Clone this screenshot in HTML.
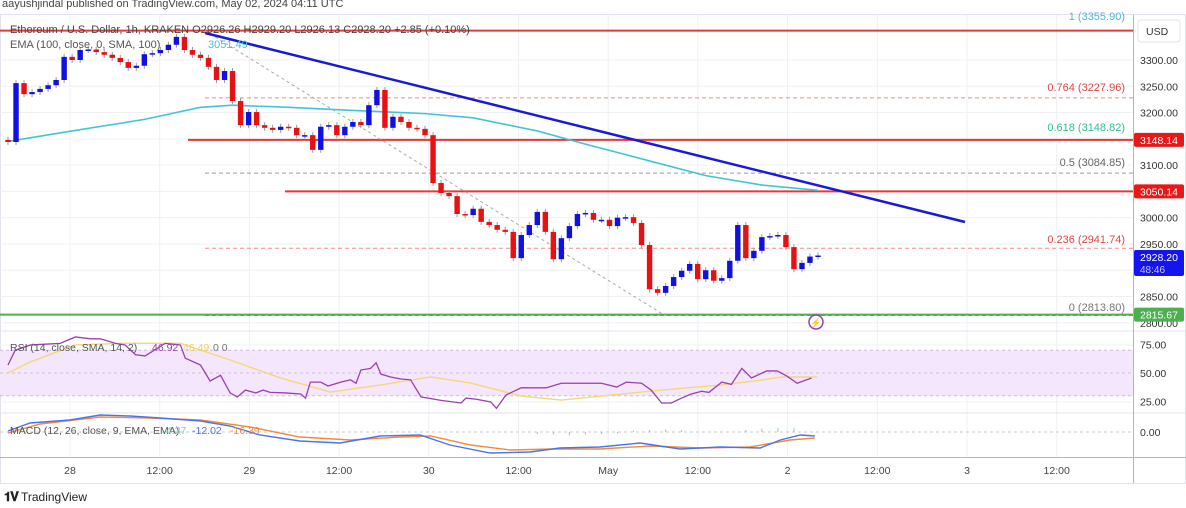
<!DOCTYPE html>
<html><head><meta charset="utf-8">
<style>
html,body{margin:0;padding:0;background:#fff;}
body{width:1186px;height:508px;overflow:hidden;font-family:"Liberation Sans",sans-serif;position:relative;}
.t{position:absolute;white-space:nowrap;}
</style></head>
<body>
<div class="t" style="left:2px;top:-2px;font-size:11px;color:#444;">aayushjindal published on TradingView.com, May 02, 2024 04:11 UTC</div>
<svg id="chart" width="1186" height="508" style="position:absolute;left:0;top:0" font-family="Liberation Sans, sans-serif"></svg>
<div class="t" style="left:4px;top:489px;font-size:12px;color:#222;"><b style="font-size:13px;letter-spacing:-1px">𝟏𝐕</b> TradingView</div>
<script>
// ---- data ----
const opens0 = 3148;
const closes = [3144,3256,3235,3239,3245,3252,3262,3306,3300,3319,3320,3315,3310,3304,3296,3285,3289,3311,3313,3319,3329,3344,3319,3310,3304,3287,3262,3279,3222,3176,3201,3176,3171,3167,3173,3171,3157,3157,3129,3173,3176,3157,3173,3182,3176,3214,3243,3171,3192,3182,3171,3169,3157,3066,3047,3041,3007,3005,3017,2992,2986,2977,2973,2923,2967,2986,3011,2973,2921,2961,2984,3007,3009,2996,2996,2984,3000,3001,2990,2948,2864,2857,2870,2887,2899,2912,2883,2900,2880,2885,2918,2986,2923,2937,2963,2965,2967,2944,2902,2914,2926,2928];
const emaIdx = [0,8,17,24,28,35,43,49,52,58,66,72,80,87,94,101];
const emaVals = [3145,3165,3187,3210,3214,3210,3204,3200,3198,3190,3165,3140,3108,3080,3062,3052];
const priceTicks = [3300,3250,3200,3150,3100,3000,2950,2850,2800];
const timeLabels = ["28","12:00","29","12:00","30","12:00","May","12:00","2","12:00","3","12:00"];
const timeHours = [0,12,24,36,48,60,72,84,96,108,120,132];
const rsiIdx = [0,0.9,2.8,6.5,8.4,10.3,11.5,13.4,14.6,15.9,17.1,19.6,21.5,22.1,24,25.2,26.5,27.7,28.6,29.6,30.9,31.8,32.7,34.6,36.5,37.1,37.7,39,39.9,41.5,42.7,43.4,44,45.2,45.9,46.5,47.7,49,50.2,51.5,54,56.5,57.1,58.4,60.2,60.9,62.1,64,67.1,69,72.7,74,75.9,77.1,79,80.2,81.5,82.7,84,85.2,86.5,87.4,89,90.2,91.5,92.7,94.6,95.9,97.1,98.4,100.2];
const rsiVals = [57,70,74.6,76,81.6,80,80,76,74.6,66,65,76,74.6,63,57,43,48,32.5,29,35,32.5,35,33,32.5,31.6,28,42,42,38.6,42,44,41,52.6,54,59,49,46.5,44.7,44,29,26,23.7,28,27,24.6,19,30.7,37,37,41,41,41,37.7,42,41,35,23.7,23.7,28,31.6,34,33,42,40,54,45.6,51.8,51.8,47.4,41,45.6];
const rsiSmaIdx = [0,2.75,8.4,14,21.5,27.7,34,40.2,46.5,52.7,57.7,64,69,74,81.5,89,94,96.5,100.9];
const rsiSmaVals = [50,59.6,74.6,76,76,61.4,45.6,33.3,39.5,46.5,41.2,29.8,26.3,29.8,35,39.5,43.9,46.5,46.5];
const macdIdx = [0,2.75,7.7,11.5,15.2,19,24,27.7,31.4,36.4,41.4,46.4,51.4,55.1,60.1,65.1,68.8,73.8,78.8,83.8,88.8,93.8,96.3,98.8,100.6];
const macdVals = [1.5,13.5,18,25.5,24,21,16.5,9,-4.5,-13.5,-16.5,-6,-4.5,-19.5,-31.5,-30,-24,-22.5,-16.5,-25.5,-22.5,-24,-12,-4.5,-6];
const sigIdx = [0,4,11.5,17.7,24,30.2,36.4,42.7,48.9,52.7,57.7,62.7,67.7,73.8,80.1,86.3,92.5,97.5,100.6];
const sigVals = [-1.5,12,22.5,21,18,7.5,-7.5,-12,-7.5,-6,-19.5,-27,-25.5,-25.5,-21,-24,-22.5,-12,-9];
const histIdx = [66,68,70,72,74,76,78,80,82,84,92,94,96,98];
const histVals = [-3,-4,-5,-4,-3,-2,2,3,4,3,3,5,6,6];

// ---- scales ----
const svg = document.getElementById('chart');
const NS = 'http://www.w3.org/2000/svg';
const X0 = 8, X1 = 818, N = closes.length;
function xs(u){ return X0 + u*(X1-X0)/(N-1); }
function ys(p){ return 60 + (3300-p)*0.5256; }
function xt(h){ return 70 + h*7.475; }
function yr(v){ return 373 - (v-50)*1.14; }
function ym(v){ return 432 - v/1.5; }
function el(tag, attrs, parent){ const e=document.createElementNS(NS,tag); for(const k in attrs) e.setAttribute(k,attrs[k]); (parent||svg).appendChild(e); return e; }
function txt(s, attrs){ const e=el('text',attrs); e.textContent=s; return e; }

// frame & grid
let g;
g = el('rect',{x:0.5,y:14.5,width:1185,height:469,fill:'none',stroke:'#e0e3eb'});
 
timeHours.forEach(h=>{ const l=el('line',{x1:xt(h),x2:xt(h),y1:15,y2:457,stroke:'#eef0f4'});
   });
priceTicks.concat([3050,2900]).forEach(p=>{ const l=el('line',{x1:0,x2:1133,y1:ys(p),y2:ys(p),stroke:'#eef0f4'});
   });
[345,402].forEach(y=>{ el('line',{x1:0,x2:1133,y1:y,y2:y,stroke:'#eef0f4'}); });
// pane separators
el('line',{x1:0,x2:1186,y1:331,y2:331,stroke:'#e0e3eb'});
el('line',{x1:0,x2:1186,y1:413,y2:413,stroke:'#e0e3eb'});
el('line',{x1:0,x2:1186,y1:457.5,y2:457.5,stroke:'#b2b5be'});
el('line',{x1:1133.5,x2:1133.5,y1:15,y2:483,stroke:'#b2b5be'});

// RSI band
g = el('rect',{x:0,y:yr(70),width:1133,height:yr(30)-yr(70),fill:'#f3e6fd'});
 
[70,50,30].forEach(v=>{ el('line',{x1:0,x2:1133,y1:yr(v),y2:yr(v),stroke:'#cbbdd6','stroke-dasharray':'3,3'}); });
// MACD zero line
el('line',{x1:0,x2:1133,y1:ym(0),y2:ym(0),stroke:'#c8cbd3','stroke-dasharray':'3,3'});

// horizontal levels
function hline(x1,p,color,w,dash,name){ const l=el('line',{x1:x1,x2:1133,y1:ys(p),y2:ys(p),stroke:color,'stroke-width':w});
 if(dash) l.setAttribute('stroke-dasharray',dash);
   }
hline(205,3227.96,'#f28b8b',1,'4,3','fib-0764-line');
hline(205,3084.85,'#9a9a9a',1,'4,3','fib-05-line');
hline(205,2941.74,'#f28b8b',1,'4,3','fib-0236-line');
hline(0,2815.67,'#4caf50',2,null,'support-line-2815');
hline(205,2813.8,'#888',1,'4,3','fib-0-line');
hline(0,3355.9,'#e53935',2,null,'fib-1-line');
hline(188,3148.14,'#e53935',2,null,'resistance-line-3148');
hline(285,3050.14,'#e53935',2,null,'resistance-line-3050');

// fib diagonal
g = el('line',{x1:205,y1:ys(3355.9),x2:665,y2:ys(2813.8),stroke:'#aaa','stroke-dasharray':'3,3'});
 

// EMA
g = el('polyline',{points:emaIdx.map((u,i)=>xs(u)+','+ys(emaVals[i])).join(' '),fill:'none',stroke:'#41c4d8','stroke-width':1.6});
 

// candles
let prev = opens0;
closes.forEach((c,i)=>{
  const o = prev; prev = c;
  const up = c>=o; const col = up?'#1010e0':'#e81010';
  const x = xs(i); const yt = ys(Math.max(o,c)), yb = ys(Math.min(o,c));
  const w = el('line',{x1:x,x2:x,y1:yt-3,y2:yb+3,stroke:'#999','stroke-width':1});
   
  const r = el('rect',{x:x-2.7,y:yt,width:5.4,height:Math.max(1.5,yb-yt),fill:col});
   
});

// trendline
g = el('line',{x1:205,y1:33,x2:965,y2:222,stroke:'#1a1ad6','stroke-width':2.5});
 

// RSI lines
g = el('polyline',{points:rsiSmaIdx.map((u,i)=>xs(u)+','+yr(rsiSmaVals[i])).join(' '),fill:'none',stroke:'#f7d774','stroke-width':1.4});
 
g = el('polyline',{points:rsiIdx.map((u,i)=>xs(u)+','+yr(rsiVals[i])).join(' '),fill:'none',stroke:'#9c3fae','stroke-width':1.3});
 

// MACD
histIdx.forEach((u,i)=>{ const v=histVals[i]; const b=el('line',{x1:xs(u),x2:xs(u),y1:ym(0),y2:ym(v),stroke:v>=0?'#7fd3c8':'#f5a0a0','stroke-width':1});
   });
g = el('polyline',{points:sigIdx.map((u,i)=>xs(u)+','+ym(sigVals[i])).join(' '),fill:'none',stroke:'#f28c3a','stroke-width':1.4});
 
g = el('polyline',{points:macdIdx.map((u,i)=>xs(u)+','+ym(macdVals[i])).join(' '),fill:'none',stroke:'#4a73f0','stroke-width':1.4});
 

// legends
g = txt('Ethereum / U.S. Dollar, 1h, KRAKEN  O2926.26  H2929.20  L2926.13  C2928.20  +2.85 (+0.10%)',{x:10,y:33,'font-size':11,fill:'#444'});
 
g = txt('EMA (100, close, 0, SMA, 100)',{x:10,y:48,'font-size':11,fill:'#555'});
 
txt('3051.49',{x:208,y:48,'font-size':11,fill:'#41c4d8'});
g = txt('RSI (14, close, SMA, 14, 2)',{x:10,y:351,'font-size':10.5,fill:'#555'});
 
txt('46.92',{x:152,y:351,'font-size':10.5,fill:'#9c3fae'});
txt('46.49',{x:183,y:351,'font-size':10.5,fill:'#f0d060'});
txt('0  0',{x:213,y:351,'font-size':10.5,fill:'#777'});
g = txt('MACD (12, 26, close, 9, EMA, EMA)',{x:10,y:434,'font-size':10.5,fill:'#555'});
 
txt('4.37',{x:166,y:434,'font-size':10.5,fill:'#7fd3c8'});
txt('-12.02',{x:192,y:434,'font-size':10.5,fill:'#4a73f0'});
txt('-16.39',{x:230,y:434,'font-size':10.5,fill:'#f28c3a'});

// fib labels
[['1 (3355.90)',20,'#56b3d6'],['0.764 (3227.96)',91,'#e04848'],['0.618 (3148.82)',131,'#2fbf9a'],['0.5 (3084.85)',166,'#666'],['0.236 (2941.74)',243,'#e04848'],['0 (2813.80)',311,'#777']].forEach(a=>{
  const t=txt(a[0],{x:1125,y:a[1],'font-size':11,fill:a[2],'text-anchor':'end'});
   
});

// right axis
g = el('rect',{x:1138,y:20,width:42,height:22,rx:3,fill:'#fff',stroke:'#e0e3eb'});
 
txt('USD',{x:1146,y:35,'font-size':10.5,fill:'#333'});
priceTicks.forEach(p=>{ const t=txt(p.toFixed(2),{x:1140,y:ys(p)+4,'font-size':10.5,fill:'#333'});
   });
[75,50,25].forEach(v=>{ const t=txt(v.toFixed(2),{x:1140,y:yr(v)+4,'font-size':10.5,fill:'#333'});
   });
txt('0.00',{x:1140,y:ym(0)+4,'font-size':10.5,fill:'#333'});
function tag(p,label,color,h,name){ const y=ys(p); const r=el('rect',{x:1134,y:y-h/2+(h>20?h/2-8:0),width:50,height:h,rx:2,fill:color});
  
 txt(label,{x:1140,y:y+4,'font-size':10.5,fill:'#fff'}); }
tag(3148.14,'3148.14','#e81818',14,'price-tag-3148');
tag(3050.14,'3050.14','#e81818',14,'price-tag-3050');
tag(2815.67,'2815.67','#4caf50',14,'price-tag-2815');
g = el('rect',{x:1134,y:250,width:50,height:26,rx:2,fill:'#1414ee'});
 
txt('2928.20',{x:1140,y:261,'font-size':10.5,fill:'#fff'});
txt('48:46',{x:1140,y:273,'font-size':10,fill:'#c8c8ff'});

// time labels
timeLabels.forEach((s,i)=>{ const t=txt(s,{x:xt(timeHours[i]),y:474,'font-size':10.5,fill:'#444','text-anchor':'middle'});
   });

// lightning icon
g = el('circle',{cx:816,cy:322,r:7,fill:'#fff',stroke:'#9c3fae','stroke-width':1.5});
 
txt('⚡',{x:816,y:326,'font-size':9,fill:'#9c3fae','text-anchor':'middle'});
</script>
</body></html>
